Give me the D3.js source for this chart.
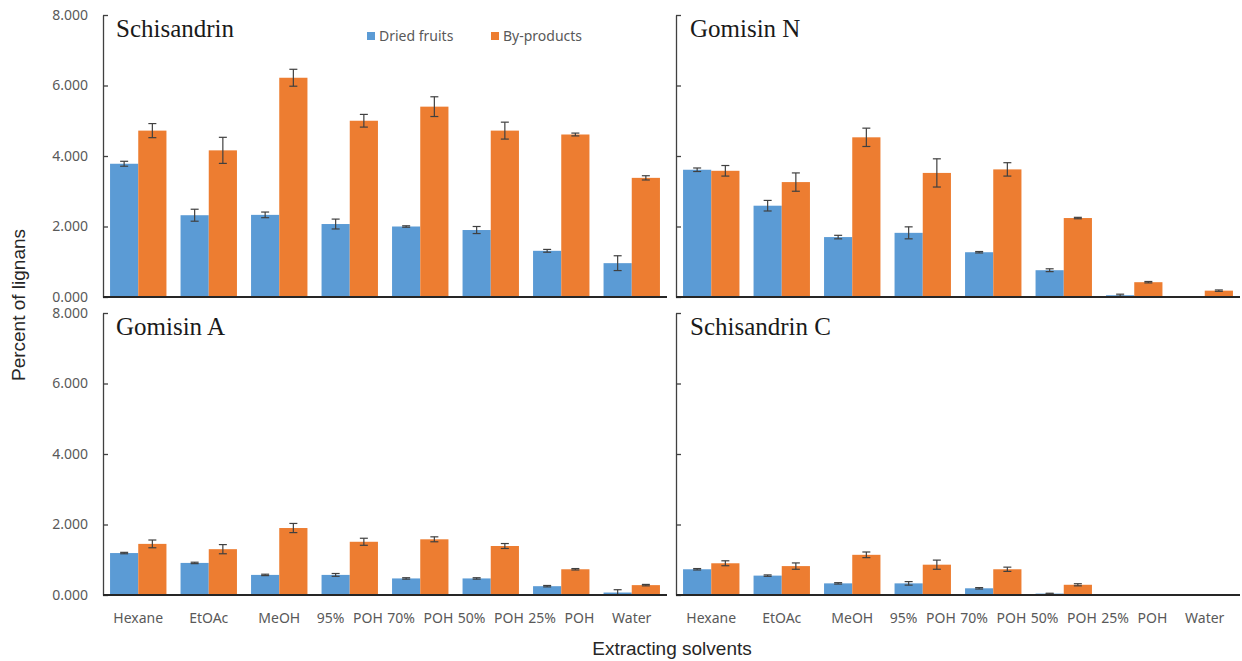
<!DOCTYPE html>
<html>
<head>
<meta charset="utf-8">
<script src="https://cdn.jsdelivr.net/npm/d3@7"></script>
<style>
  body { margin: 0; background: #fff; }
  svg { display: block; }
  .tick text { font-family: "Noto Sans", sans-serif; font-size: 14px; fill: #595959; }
</style>
</head>
<body>
<svg id="chart" width="1242" height="661"></svg>
<script>
var solvents = ['Hexane', 'EtOAc', 'MeOH', '95% POH', '70% POH', '50% POH', '25% POH', 'Water'];
var seriesNames = ['Dried fruits', 'By-products'];
var yTicks = [0, 2, 4, 6, 8];

// values, with the half-length of each error bar
var schisandrinDried = [3.78, 2.32, 2.33, 2.07, 2.00, 1.90, 1.31, 0.96];
var schisandrinDriedErr = [0.07, 0.17, 0.08, 0.14, 0.02, 0.10, 0.04, 0.21];
var schisandrinBy = [4.72, 4.16, 6.22, 5.00, 5.40, 4.72, 4.61, 3.38];
var schisandrinByErr = [0.20, 0.37, 0.24, 0.18, 0.28, 0.24, 0.04, 0.06];

var gomisinNDried = [3.61, 2.59, 1.70, 1.82, 1.27, 0.76, 0.05, 0];
var gomisinNDriedErr = [0.05, 0.15, 0.05, 0.17, 0.02, 0.04, 0.03, 0];
var gomisinNBy = [3.58, 3.26, 4.53, 3.52, 3.62, 2.24, 0.42, 0.18];
var gomisinNByErr = [0.15, 0.26, 0.26, 0.40, 0.19, 0.02, 0.02, 0.02];

var gomisinADried = [1.19, 0.91, 0.57, 0.57, 0.47, 0.47, 0.25, 0.07];
var gomisinADriedErr = [0.02, 0.02, 0.02, 0.04, 0.02, 0.02, 0.02, 0.08];
var gomisinABy = [1.45, 1.30, 1.90, 1.51, 1.58, 1.39, 0.73, 0.28];
var gomisinAByErr = [0.11, 0.13, 0.13, 0.10, 0.07, 0.07, 0.02, 0.02];

var schisandrinCDried = [0.73, 0.55, 0.33, 0.33, 0.19, 0.04, 0, 0];
var schisandrinCDriedErr = [0.02, 0.02, 0.02, 0.05, 0.02, 0.01, 0, 0];
var schisandrinCBy = [0.90, 0.82, 1.14, 0.86, 0.73, 0.29, 0, 0];
var schisandrinCByErr = [0.07, 0.09, 0.08, 0.13, 0.06, 0.03, 0, 0];

var colors = ['#5b9bd5', '#ed7d31'];
var colX = [[103, 667], [676, 1240]];
var rowY = [[15, 297], [313, 595]];

var panels = [
  {title: 'Schisandrin', col: 0, row: 0, vals: [schisandrinDried, schisandrinBy], errs: [schisandrinDriedErr, schisandrinByErr]},
  {title: 'Gomisin N', col: 1, row: 0, vals: [gomisinNDried, gomisinNBy], errs: [gomisinNDriedErr, gomisinNByErr]},
  {title: 'Gomisin A', col: 0, row: 1, vals: [gomisinADried, gomisinABy], errs: [gomisinADriedErr, gomisinAByErr]},
  {title: 'Schisandrin C', col: 1, row: 1, vals: [schisandrinCDried, schisandrinCBy], errs: [schisandrinCDriedErr, schisandrinCByErr]}
];

var svg = d3.select('#chart');

panels.forEach(drawPanel);

function drawPanel(p) {
  var xr = colX[p.col], yr = rowY[p.row];
  var x = d3.scaleBand().domain(solvents).range(xr).paddingInner(0.2).paddingOuter(0.1);
  var xs = d3.scaleBand().domain([0, 1]).range([0, x.bandwidth()]);
  var y = d3.scaleLinear().domain([0, 8]).range([yr[1], yr[0]]);

  var g = svg.append('g');

  var rows = [];
  p.vals.forEach(function(vs, s) {
    vs.forEach(function(v, i) {
      rows.push({solvent: solvents[i], s: s, v: v, e: p.errs[s][i]});
    });
  });

  g.selectAll('rect.bar').data(rows.filter(function(d) { return d.v > 0; }))
    .enter().append('rect')
    .attr('class', 'bar')
    .attr('x', function(d) { return x(d.solvent) + xs(d.s); })
    .attr('width', xs.bandwidth())
    .attr('y', function(d) { return y(d.v); })
    .attr('height', function(d) { return y(0) - y(d.v); })
    .attr('fill', function(d) { return colors[d.s]; });

  var errs = g.selectAll('g.err').data(rows.filter(function(d) { return d.v > 0; }))
    .enter().append('g')
    .attr('class', 'err')
    .attr('stroke', '#404040')
    .attr('stroke-width', 1.2)
    .attr('transform', function(d) { return 'translate(' + (x(d.solvent) + xs(d.s) + xs.bandwidth() / 2) + ',0)'; });
  errs.append('line')
    .attr('y1', function(d) { return y(d.v + d.e); })
    .attr('y2', function(d) { return y(Math.max(0, d.v - d.e)); });
  errs.append('line').attr('x1', -4).attr('x2', 4)
    .attr('y1', function(d) { return y(d.v + d.e); })
    .attr('y2', function(d) { return y(d.v + d.e); });
  errs.append('line').attr('x1', -4).attr('x2', 4)
    .attr('y1', function(d) { return y(Math.max(0, d.v - d.e)); })
    .attr('y2', function(d) { return y(Math.max(0, d.v - d.e)); });

  var yAxis = d3.axisLeft(y).tickValues(yTicks).tickSizeInner(-5).tickSizeOuter(0).tickPadding(15)
    .tickFormat(p.col === 0 ? d3.format('.3f') : function() { return ''; });
  var ax = g.append('g').attr('transform', 'translate(' + xr[0] + ',0)').call(yAxis);
  ax.selectAll('path, line').attr('stroke', '#404040').attr('stroke-width', 1.3);

  g.append('line')
    .attr('x1', xr[0]).attr('x2', xr[1])
    .attr('y1', y(0)).attr('y2', y(0))
    .attr('stroke', '#262626').attr('stroke-width', 2);

  g.append('text')
    .attr('x', xr[0] + (p.col === 0 ? 13 : 14))
    .attr('y', yr[0] + 22)
    .attr('font-family', '"Liberation Serif", serif')
    .attr('font-size', 25)
    .attr('fill', '#1a1a1a')
    .text(p.title);

  if (p.row === 1) {
    g.selectAll('text.xl').data(solvents).enter().append('text')
      .attr('class', 'xl')
      .attr('x', function(d) { return x(d) + x.bandwidth() / 2; })
      .attr('y', 623)
      .attr('text-anchor', 'middle')
      .attr('font-family', '"Noto Sans", sans-serif')
      .attr('font-size', 14)
      .attr('word-spacing', 5)
      .attr('fill', '#595959')
      .text(function(d) { return d; });
  }
}

// legend
var legend = svg.append('g').selectAll('g').data(seriesNames).enter().append('g')
  .attr('transform', function(d, i) { return 'translate(' + (367 + i * 124) + ',32)'; });
legend.append('rect').attr('width', 8).attr('height', 8)
  .attr('fill', function(d, i) { return colors[i]; });
legend.append('text').attr('x', 12).attr('y', 9)
  .attr('font-family', '"Noto Sans", sans-serif').attr('font-size', 14)
  .attr('fill', '#595959')
  .text(function(d) { return d; });

svg.append('text')
  .attr('transform', 'translate(25,305) rotate(-90)')
  .attr('text-anchor', 'middle')
  .attr('font-family', '"Liberation Sans", Arial, sans-serif')
  .attr('font-size', 19)
  .attr('fill', '#262626')
  .text('Percent of lignans');

svg.append('text')
  .attr('x', 672).attr('y', 655)
  .attr('text-anchor', 'middle')
  .attr('font-family', '"Liberation Sans", Arial, sans-serif')
  .attr('font-size', 19)
  .attr('fill', '#262626')
  .text('Extracting solvents');
</script>
</body>
</html>
